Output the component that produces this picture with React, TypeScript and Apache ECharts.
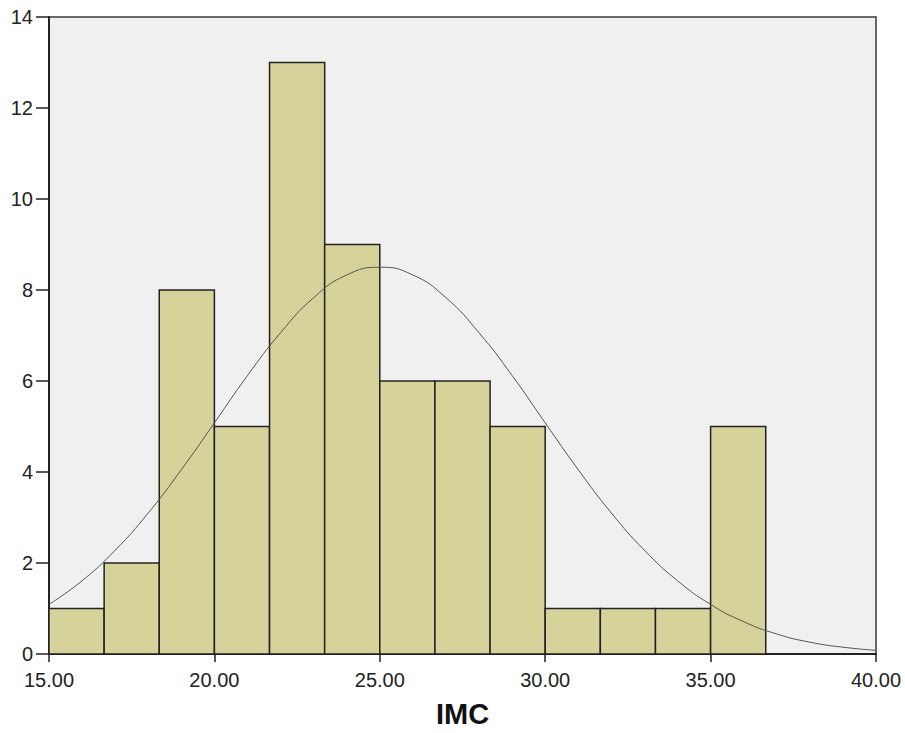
import React, { useEffect, useRef } from "react";
import * as echarts from "echarts";

const binStarts = [15.0, 16.667, 18.333, 20.0, 21.667, 23.333, 25.0, 26.667, 28.333, 30.0, 31.667, 33.333, 35.0];
const binWidth = 1.6667;
const counts = [1, 2, 8, 5, 13, 9, 6, 6, 5, 1, 1, 1, 5];
const curveX = [15, 16, 17, 18, 19, 20, 21, 22, 23, 24, 25, 26, 27, 28, 29, 30, 31, 32, 33, 34, 35, 36, 37, 38, 39, 40];
const curveY = [1.09, 1.61, 2.28, 3.1, 4.05, 5.08, 6.12, 7.06, 7.83, 8.33, 8.5, 8.33, 7.83, 7.06, 6.12, 5.08, 4.05, 3.1, 2.28, 1.61, 1.09, 0.71, 0.44, 0.26, 0.15, 0.08];
const yTicks = [0, 2, 4, 6, 8, 10, 12, 14];
const xTitle = "IMC";

const FONT = "Arial, 'Liberation Sans', sans-serif";

export default function App() {
  const ref = useRef<HTMLDivElement>(null);
  useEffect(() => {
    if (!ref.current) return;
    const chart = echarts.init(ref.current, null, { renderer: "svg" });
    const barData = binStarts.map((s, i) => [s, s + binWidth, counts[i]]);
    const lineData = curveX.map((x, i) => [x, curveY[i]]);
    chart.setOption({
      animation: false,
      backgroundColor: "#ffffff",
      grid: {
        left: 49,
        top: 17,
        right: 29,
        bottom: 79,
        containLabel: false,
        outerBoundsMode: "none",
        show: true,
        backgroundColor: "#f0f0f0",
        borderColor: "#3a3a3a",
        borderWidth: 1.5,
      },
      xAxis: {
        type: "value",
        min: 15,
        max: 40,
        interval: 5,
        name: xTitle,
        nameLocation: "middle",
        nameGap: 45,
        nameTextStyle: { fontFamily: FONT, fontSize: 29, fontWeight: "bold", color: "#111" },
        axisLine: { show: true, lineStyle: { color: "#222", width: 2 } },
        axisTick: { show: true, inside: false, length: 8, lineStyle: { color: "#222", width: 1.5 } },
        axisLabel: {
          fontFamily: FONT,
          fontSize: 20,
          color: "#222",
          margin: 16,
          formatter: (v: number) => v.toFixed(2),
        },
        splitLine: { show: false },
      },
      yAxis: {
        type: "value",
        min: 0,
        max: 14,
        interval: 2,
        axisLine: { show: true, lineStyle: { color: "#222", width: 2 } },
        axisTick: { show: true, inside: false, length: 13, lineStyle: { color: "#222", width: 1.5 } },
        axisLabel: {
          fontFamily: FONT,
          fontSize: 20,
          color: "#222",
          margin: 16,
          formatter: (v: number) => (yTicks.includes(v) ? String(v) : ""),
        },
        splitLine: { show: false },
      },
      series: [
        {
          type: "custom",
          data: barData,
          encode: { x: [0, 1], y: 2 },
          renderItem: (params: any, api: any) => {
            const start = api.coord([api.value(0), api.value(2)]);
            const end = api.coord([api.value(1), 0]);
            return {
              type: "rect",
              shape: { x: start[0], y: start[1], width: end[0] - start[0], height: end[1] - start[1] },
              style: { fill: "#d5d39a", stroke: "#222", lineWidth: 1.5 },
            };
          },
          z: 2,
        },
        {
          type: "line",
          data: lineData,
          smooth: true,
          symbol: "none",
          lineStyle: { color: "#555", width: 1 },
          z: 3,
        },
      ],
    });
    return () => chart.dispose();
  }, []);
  return (
    <div
      ref={ref}
      style={{ position: "fixed", left: 0, top: 0, width: 905, height: 733, background: "#fff" }}
    />
  );
}
